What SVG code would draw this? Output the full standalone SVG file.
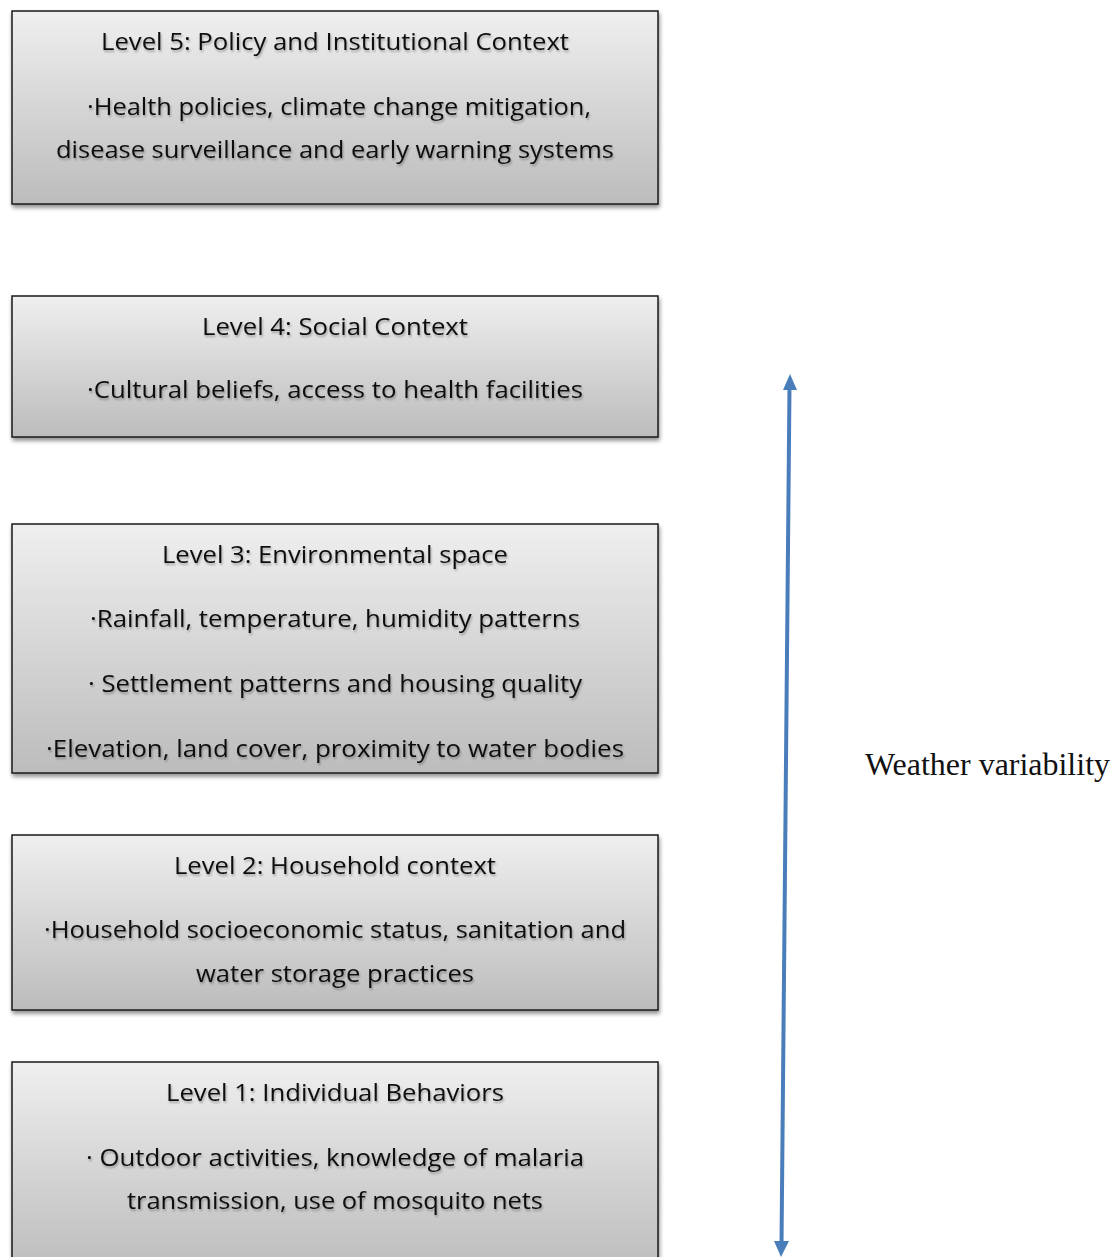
<svg xmlns="http://www.w3.org/2000/svg" width="1116" height="1257" viewBox="0 0 1116 1257">
<defs>
<linearGradient id="g" x1="0" y1="0" x2="0" y2="1">
<stop offset="0" stop-color="#efefef"/>
<stop offset="1" stop-color="#bcbcbc"/>
</linearGradient>
<filter id="sh" x="-5%" y="-5%" width="110%" height="115%">
<feGaussianBlur in="SourceAlpha" stdDeviation="2"/>
<feOffset dx="1" dy="3" result="b"/>
<feComponentTransfer><feFuncA type="linear" slope="0.45"/></feComponentTransfer>
<feMerge><feMergeNode/><feMergeNode in="SourceGraphic"/></feMerge>
</filter>
<filter id="ts" x="-5%" y="-20%" width="110%" height="150%">
<feGaussianBlur in="SourceAlpha" stdDeviation="1"/>
<feOffset dx="1" dy="2"/>
<feComponentTransfer><feFuncA type="linear" slope="0.3"/></feComponentTransfer>
<feMerge><feMergeNode/><feMergeNode in="SourceGraphic"/></feMerge>
</filter>
</defs>
<style>
.box{fill:url(#g);stroke:#1a1a1a;stroke-width:1.5;filter:url(#sh)}
.t{font-family:"Open Sans","Liberation Sans",sans-serif;font-size:24px;fill:#111;text-anchor:middle;filter:url(#ts)}
.w{font-family:"Liberation Serif",serif;font-size:31px;fill:#111}
.arr{fill:#4a7ebb}
</style>
<rect width="1116" height="1257" fill="#fff"/>
<g id="level5">
<rect class="box" x="12" y="11" width="646" height="193"/>
<text class="t" x="335" y="50" textLength="468" lengthAdjust="spacingAndGlyphs">Level 5: Policy and Institutional Context</text>
<text class="t" x="339" y="115" textLength="504" lengthAdjust="spacingAndGlyphs">·Health policies, climate change mitigation,</text>
<text class="t" x="335" y="158" textLength="558" lengthAdjust="spacingAndGlyphs">disease surveillance and early warning systems</text>
</g>
<g id="level4">
<rect class="box" x="12" y="296" width="646" height="141"/>
<text class="t" x="335" y="335" textLength="266" lengthAdjust="spacingAndGlyphs">Level 4: Social Context</text>
<text class="t" x="335" y="398" textLength="496" lengthAdjust="spacingAndGlyphs">·Cultural beliefs, access to health facilities</text>
</g>
<g id="level3">
<rect class="box" x="12" y="524" width="646" height="249"/>
<text class="t" x="335" y="563" textLength="346" lengthAdjust="spacingAndGlyphs">Level 3: Environmental space</text>
<text class="t" x="335" y="627" textLength="490" lengthAdjust="spacingAndGlyphs">·Rainfall, temperature, humidity patterns</text>
<text class="t" x="335" y="692" textLength="494" lengthAdjust="spacingAndGlyphs">· Settlement patterns and housing quality</text>
<text class="t" x="335" y="757" textLength="578" lengthAdjust="spacingAndGlyphs">·Elevation, land cover, proximity to water bodies</text>
</g>
<g id="level2">
<rect class="box" x="12" y="835" width="646" height="175"/>
<text class="t" x="335" y="874" textLength="322" lengthAdjust="spacingAndGlyphs">Level 2: Household context</text>
<text class="t" x="335" y="938" textLength="582" lengthAdjust="spacingAndGlyphs">·Household socioeconomic status, sanitation and</text>
<text class="t" x="335" y="982" textLength="278" lengthAdjust="spacingAndGlyphs">water storage practices</text>
</g>
<g id="level1">
<rect class="box" x="12" y="1062" width="646" height="210"/>
<text class="t" x="335" y="1101" textLength="338" lengthAdjust="spacingAndGlyphs">Level 1: Individual Behaviors</text>
<text class="t" x="335" y="1166" textLength="498" lengthAdjust="spacingAndGlyphs">· Outdoor activities, knowledge of malaria</text>
<text class="t" x="335" y="1209" textLength="416" lengthAdjust="spacingAndGlyphs">transmission, use of mosquito nets</text>
</g>
<g id="connectors">
<line x1="789.5" y1="386" x2="781.5" y2="1245" stroke="#4a7ebb" stroke-width="4"/>
<path class="arr" d="M790,374 L797,390 L783,390 z"/>
<path class="arr" d="M781,1257 L774,1241 L789,1241 z"/>
</g>
<g id="label">
<text class="w" x="865" y="775" textLength="245" lengthAdjust="spacingAndGlyphs">Weather variability</text>
</g>
</svg>
